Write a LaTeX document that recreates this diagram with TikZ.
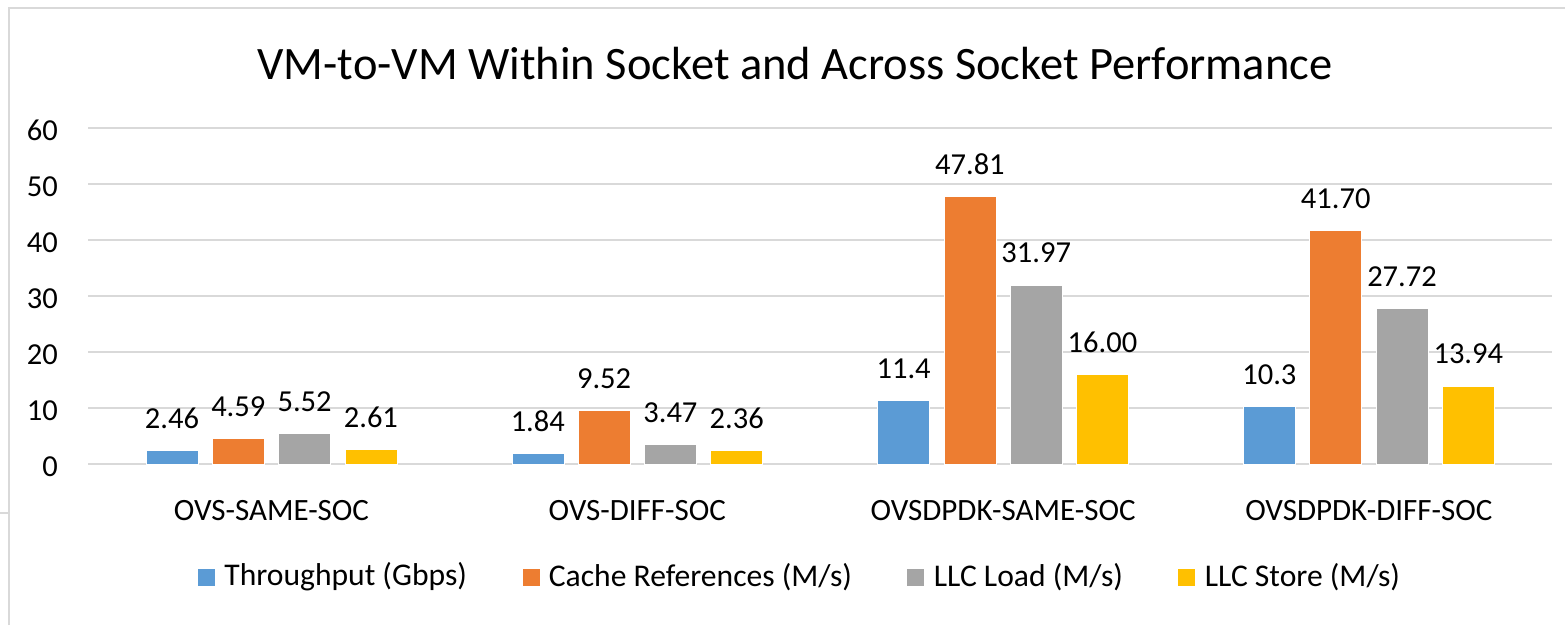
\documentclass[tikz,border=0pt]{standalone}
\usepackage{fontspec}
\setmainfont{Carlito}
\usetikzlibrary{positioning}
\definecolor{barblue}{HTML}{5B9BD5}
\definecolor{barorange}{HTML}{ED7D31}
\definecolor{bargray}{HTML}{A5A5A5}
\definecolor{baryellow}{HTML}{FFC000}
\definecolor{gridgray}{HTML}{D9D9D9}

\begin{document}
\begin{tikzpicture}[x=1pt, y=1pt, node distance=55pt,
  gridline/.style={gridgray, line width=1.6pt},
  bar/.style={draw=white, line width=0.6pt},
  vallbl/.style={anchor=base, inner sep=0, font=\fontsize{30.5}{32}\selectfont},
  ticklbl/.style={anchor=base east, inner sep=0, font=\fontsize{30.5}{32}\selectfont},
  catlbl/.style={anchor=base, inner sep=0, font=\fontsize{31}{34}\selectfont},
  keybox/.style={rectangle, minimum size=17pt, inner sep=0},
  keytxt/.style={inner sep=0, font=\fontsize{31.6}{35}\selectfont}]
  \useasboundingbox (0,0) rectangle (1565,625);
  \draw[gridline] (9,0) -- (9,617) -- (1565,617);
  \draw[gridline] (0,112) -- (9,112);
  \node[anchor=base, inner sep=0, font=\fontsize{46.5}{56}\selectfont] (title) at (795,545) {VM-to-VM Within Socket and Across Socket Performance};
  \foreach \k in {0,...,6} {
    \draw[gridline] (88,{161+56*\k}) -- (1552,{161+56*\k});
    \pgfmathtruncatemacro\t{10*\k}
    \node[ticklbl] (tick\k) at (58,{148.5+56*\k}) {\t};
  }
  \foreach \cat/\va/\vb/\vc/\vd [count=\g from 0] in {OVS-SAME-SOC/2.46/4.59/5.52/2.61, OVS-DIFF-SOC/1.84/9.52/3.47/2.36, OVSDPDK-SAME-SOC/11.4/47.81/31.97/16.00, OVSDPDK-DIFF-SOC/10.3/41.70/27.72/13.94} {
    \pgfmathsetmacro\cx{271.5+365.8*\g}
    \node[catlbl] (cat\g) at (\cx,105) {\cat};
    \foreach \v/\col [count=\s from 0] in {\va/barblue, \vb/barorange, \vc/bargray, \vd/baryellow} {
      \pgfmathsetmacro\bx{\cx-125.5+66.3*\s}
      \draw[bar, fill=\col] (\bx,161) rectangle ({\bx+52},{161+5.6*\v});
      \node[vallbl] (val\g\s) at ({\bx+26},{183+5.6*\v}) {\v};
    }
  }
  \node[keybox, fill=barblue] (key0) at (206.5,48) {};
  \node[keytxt, right=9pt of key0] (keytxt0) {Throughput (Gbps)};
  \node[keybox, fill=barorange, right=of keytxt0] (key1) {};
  \node[keytxt, right=9pt of key1] (keytxt1) {Cache References (M/s)};
  \node[keybox, fill=bargray, right=of keytxt1] (key2) {};
  \node[keytxt, right=9pt of key2] (keytxt2) {LLC Load (M/s)};
  \node[keybox, fill=baryellow, right=of keytxt2] (key3) {};
  \node[keytxt, right=9pt of key3] (keytxt3) {LLC Store (M/s)};
\end{tikzpicture}
\end{document}
